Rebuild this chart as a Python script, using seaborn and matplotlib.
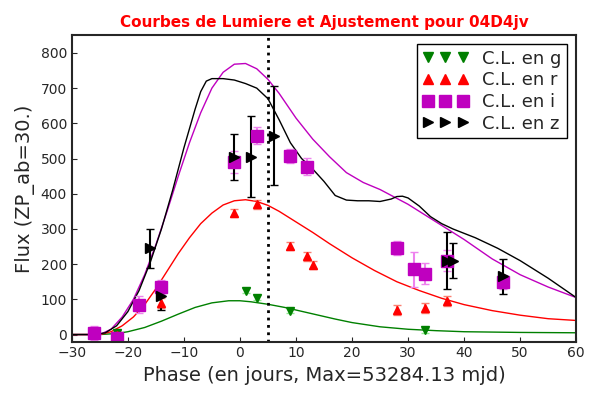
import matplotlib
matplotlib.use('Agg')
import matplotlib.pyplot as plt
from matplotlib.lines import Line2D
import seaborn as sns

# mesures
g_x = [-22, 1, 3, 9, 33]
g_y = [5, 125, 105, 68, 12]
g_e = [8, 8, 8, 8, 8]
r_x = [-22, -14, -1, 3, 9, 12, 13, 28, 33, 37]
r_y = [0, 90, 345, 370, 252, 222, 197, 70, 75, 95]
r_e = [10, 15, 12, 12, 12, 12, 12, 15, 15, 15]
i_x = [-26, -22, -18, -14, -1, 3, 9, 12, 28, 31, 33, 37, 47]
i_y = [5, -10, 85, 135, 490, 565, 507, 477, 245, 185, 173, 210, 150]
i_e = [20, 15, 25, 20, 30, 25, 20, 25, 20, 50, 30, 30, 20]
z_x = [-16, -14, -1, 2, 6, 37, 38, 47]
z_y = [245, 110, 505, 505, 565, 210, 210, 165]
z_e = [55, 40, 65, 115, 140, 80, 50, 50]

# ajustements
g_fx = [-30, -25, -22, -20, -17, -14, -11, -8, -5, -2, 0, 2, 5, 8, 11, 14, 17, 20, 25, 30, 35, 40, 50, 60]
g_fy = [0, 0, 3, 8, 20, 38, 58, 77, 90, 96, 96, 93, 86, 77, 66, 55, 44, 34, 22, 15, 11, 8, 6, 5]
r_fx = [-30, -25, -23, -21, -19, -17, -15, -13, -11, -9, -7, -5, -3, -1, 1, 3, 5, 7, 10, 13, 16, 20, 24, 28, 32, 36, 40, 45, 50, 55, 60]
r_fy = [0, 0, 8, 25, 50, 85, 130, 180, 230, 275, 315, 345, 368, 380, 383, 378, 367, 350, 320, 290, 258, 218, 182, 150, 125, 103, 85, 68, 55, 45, 40]
i_fx = [-30, -25, -23, -21, -19, -17, -15, -13, -11, -9, -7, -5, -3, -1, 1, 3, 5, 7, 10, 13, 16, 19, 22, 25, 30, 35, 40, 45, 50, 55, 60]
i_fy = [0, 0, 15, 50, 100, 170, 255, 350, 450, 545, 630, 700, 745, 768, 770, 755, 725, 685, 615, 555, 505, 460, 432, 412, 370, 320, 270, 215, 170, 135, 105]
z_fx = [-30, -26, -24, -22, -20, -18, -16, -14, -12, -10, -8, -7, -6, -5, -3, -1, 1, 3, 5, 7, 9, 11, 13, 15, 17, 19, 21, 23, 25, 27, 28, 29, 30, 32, 34, 36, 38, 42, 46, 50, 55, 60]
z_fy = [0, 0, 5, 25, 65, 125, 205, 300, 410, 530, 640, 690, 720, 727, 727, 723, 713, 700, 670, 610, 545, 500, 470, 435, 395, 382, 380, 380, 378, 385, 392, 393, 388, 365, 335, 315, 300, 275, 245, 210, 160, 105]

sns.set_style('ticks')
plt.rcParams['xtick.direction'] = 'in'
plt.rcParams['ytick.direction'] = 'in'
fig, ax = plt.subplots(figsize=(6, 4), dpi=100)

sns.lineplot(x=g_fx, y=g_fy, color='green', ax=ax, lw=1)
sns.lineplot(x=r_fx, y=r_fy, color='red', ax=ax, lw=1)
sns.lineplot(x=i_fx, y=i_fy, color='m', ax=ax, lw=1)
sns.lineplot(x=z_fx, y=z_fy, color='black', ax=ax, lw=1)

ax.errorbar(g_x, g_y, yerr=g_e, fmt='v', color='green', ecolor='lightgreen', ms=6, capsize=3)
ax.errorbar(r_x, r_y, yerr=r_e, fmt='^', color='red', ecolor='salmon', ms=6, capsize=3)
ax.errorbar(i_x, i_y, yerr=i_e, fmt='s', color='m', ecolor='violet', ms=8, capsize=3)
ax.errorbar(z_x, z_y, yerr=z_e, fmt='>', color='black', ecolor='black', ms=7, capsize=3)

handles = [
    Line2D([0], [0], marker='v', color='green', ls='none', ms=7),
    Line2D([0], [0], marker='^', color='red', ls='none', ms=7),
    Line2D([0], [0], marker='s', color='m', ls='none', ms=8),
    Line2D([0], [0], marker='>', color='black', ls='none', ms=7),
]
labels = ['C.L. en g', 'C.L. en r', 'C.L. en i', 'C.L. en z']

ax.axvline(5, color='black', ls=':', lw=2)
ax.set_xlim(-30, 60)
ax.set_ylim(-20, 850)
ax.set_xticks(range(-30, 61, 10))
ax.set_yticks(range(0, 801, 100))
ax.set_xlabel('Phase (en jours, Max=53284.13 mjd)', fontsize=14)
ax.set_ylabel('Flux (ZP_ab=30.)', fontsize=14)
ax.set_title('Courbes de Lumiere et Ajustement pour 04D4jv', color='red', fontweight='bold', fontsize=11)
ax.legend(handles, labels, loc='upper right', numpoints=3, fontsize=13, frameon=True, fancybox=False,
          edgecolor='black', handlelength=2.5, borderpad=0.3, labelspacing=0.2, framealpha=1)
for s in ax.spines.values():
    s.set_linewidth(1.5)
fig.tight_layout()
fig.savefig('out.png')
